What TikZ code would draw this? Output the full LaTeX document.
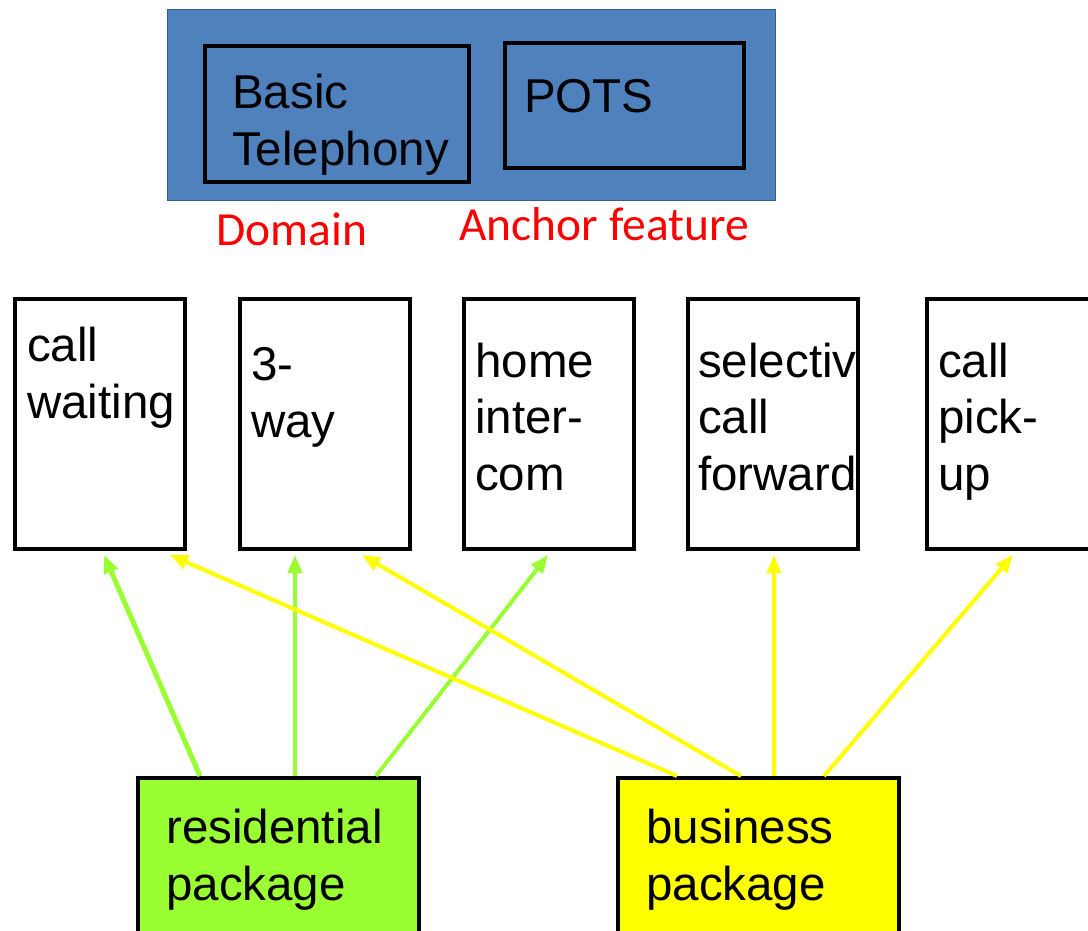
\documentclass[tikz,border=0pt]{standalone}
\usepackage{fontspec}
\setmainfont{Liberation Sans}
\newfontfamily\calfont{Carlito}
\usetikzlibrary{arrows.meta,calc}
\definecolor{domblue}{HTML}{4F81BD}
\definecolor{domedge}{HTML}{385D8A}
\definecolor{resgreen}{HTML}{99FF33}
\definecolor{busyellow}{HTML}{FFFF00}
\tikzset{
  fbox/.style={draw=black, line width=4pt, fill=white, rectangle, minimum width=170pt, minimum height=250pt, anchor=north west, inner sep=0pt},
  ibox/.style={draw=black, line width=4pt, rectangle, anchor=north west, inner sep=0pt},
  pbox/.style={draw=black, line width=4pt, rectangle, minimum width=281pt, minimum height=170pt, anchor=north west, inner sep=0pt},
  ftext/.style={anchor=base west, align=left, inner sep=0pt, font=\fontsize{47.5}{56.5}\selectfont},
  redlbl/.style={anchor=base west, inner sep=0pt, text=red, font=\calfont\fontsize{47.5}{56}\selectfont},
  garrow/.style={draw=resgreen, line width=4pt, -{Triangle[length=18pt,width=14pt]}},
  yarrow/.style={draw=busyellow, line width=4pt, -{Triangle[length=18pt,width=14pt]}},
}
\begin{document}
\begin{tikzpicture}[x=1pt,y=-1pt]
\useasboundingbox (0,0) rectangle (1088,930);
% top domain box
\node[draw=domedge, line width=1.5pt, fill=domblue, rectangle, minimum width=608pt, minimum height=191pt, anchor=north west, inner sep=0pt] (dom) at (166.5,8.5) {};
\node[ibox, minimum width=264pt, minimum height=136pt] (bt) at (203,44) {};
\node[ibox, minimum width=239pt, minimum height=125pt] (pots) at (503,41) {};
\node[ftext] (bttext) at (232,165) {Basic\\Telephony};
\node[ftext] (potstext) at (524,112) {POTS};
\node[redlbl] (domlbl) at (216,245) {Domain};
\node[redlbl] (anclbl) at (459,240) {Anchor feature};
% feature boxes
\node[fbox] (cw) at (13,297) {};
\node[fbox] (way) at (238,297) {};
\node[fbox] (home) at (462,297) {};
\node[fbox] (sel) at (686,297) {};
\node[fbox] (pick) at (925,297) {};
\node[ftext] (cwtext) at (27,418) {call\\waiting};
\node[ftext] (waytext) at (251,437) {3-\\way};
\node[ftext] (hometext) at (475,490) {home\\inter-\\com};
\begin{scope}
\clip (sel.north west) rectangle ($(sel.south east)+(-2,0)$);
\node[ftext] (seltext) at (698,490) {selective\\call\\forward};
\end{scope}
\node[ftext] (picktext) at (938,490) {call\\pick-\\up};
% packages
\node[pbox, fill=resgreen] (res) at (136,776) {};
\node[pbox, fill=busyellow] (bus) at (616,776) {};
\node[ftext] (restext) at (166,900) {residential\\package};
\node[ftext] (bustext) at (646,900) {business\\package};
% arrows
\draw[garrow, line width=5pt] ($(res.north west)+(64,0)$) -- ($(cw.south west)+(91,4)$);
\draw[garrow] ($(res.north west)+(159,0)$) -- ($(way.south west)+(57,4)$);
\draw[garrow] ($(res.north west)+(240,0)$) -- ($(home.south west)+(86,4)$);
\draw[yarrow] ($(bus.north west)+(61,0)$) -- ($(cw.south west)+(157,4)$);
\draw[yarrow] ($(bus.north west)+(125,0)$) -- ($(way.south west)+(124,4)$);
\draw[yarrow] ($(bus.north west)+(158,0)$) -- ($(sel.south west)+(88,4)$);
\draw[yarrow] ($(bus.north west)+(208,0)$) -- ($(pick.south west)+(88,4)$);
\end{tikzpicture}
\end{document}
